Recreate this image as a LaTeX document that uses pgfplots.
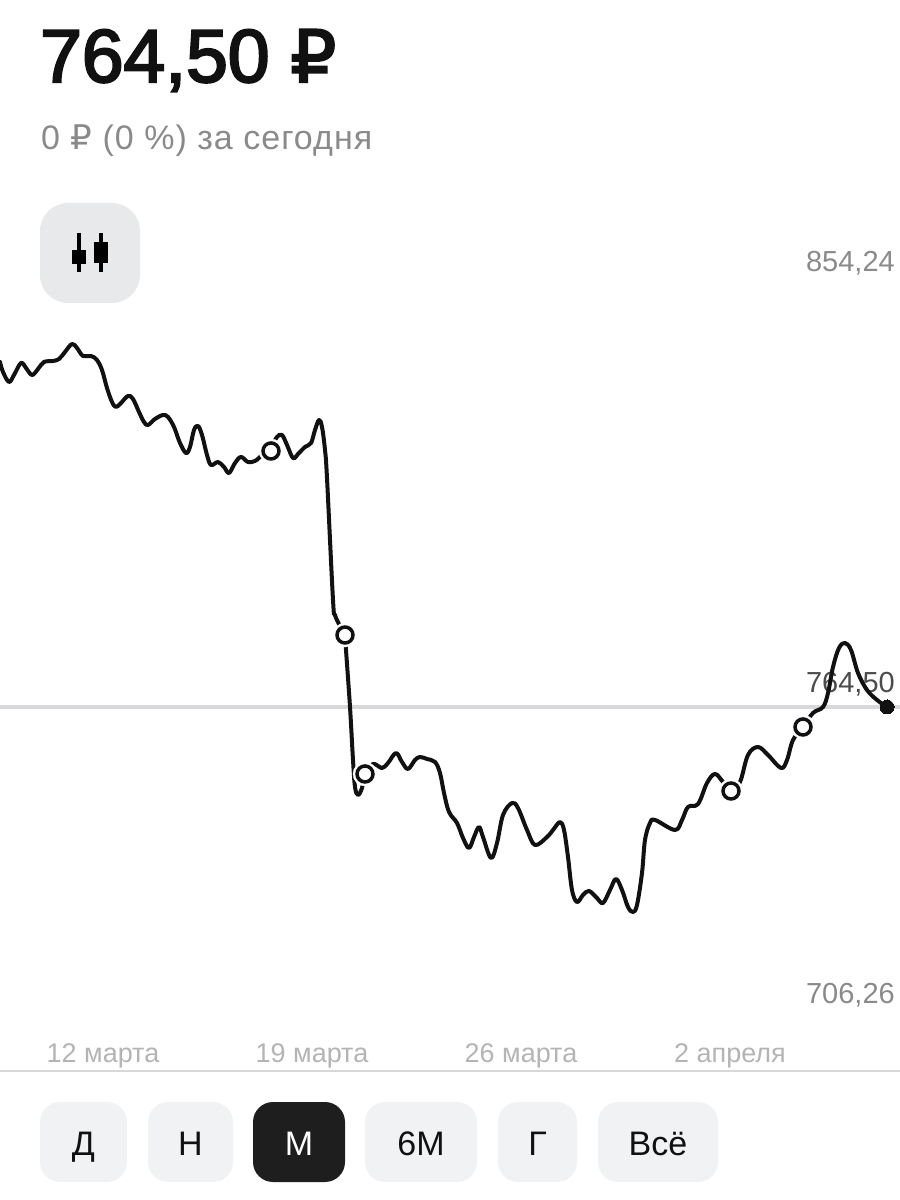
\documentclass[border=0pt]{standalone}
\usepackage{fontspec}
\setmainfont{Liberation Sans}
\newfontfamily\hd[FakeBold=3]{Liberation Sans}
\newfontfamily\rub{DejaVu Sans}
\newfontfamily\rubhd[FakeBold=3]{DejaVu Sans}
\usepackage{pgfplots}
\pgfplotsset{compat=1.18}
\definecolor{ink}{HTML}{111111}
\definecolor{greytxt}{HTML}{8A8A8A}
\definecolor{greytick}{HTML}{B4B4B4}
\definecolor{rule}{HTML}{D8D8DA}
\definecolor{btn}{HTML}{F1F2F4}
\definecolor{iconbg}{HTML}{E8E9EB}
\definecolor{btndark}{HTML}{1E1E1E}
\newcommand\fs[1]{\fontsize{#1}{#1}\selectfont}
\newcommand\lblA{764,50}
\newcommand\btn[3]{%
 \fill[btn,rounded corners=20pt] (#1,-31) rectangle (#2,-111);
 \node[anchor=base,inner sep=0pt,text=ink,font=\fs{34}] at ({(#1+#2)/2},-84) {#3};}
\begin{document}
\begin{tikzpicture}[x=1pt,y=1pt]
\useasboundingbox (0,-129) rectangle (900,1071);
\begin{axis}[
  scale only axis, width=900pt, height=1071pt,
  xmin=0, xmax=900, ymin=690.92, ymax=907.41,
  axis x line=bottom, axis y line=right,
  x axis line style={draw=rule,line width=2pt,-},
  y axis line style={draw=none,-},
  major tick length=0pt, tick style={draw=none},
  xtick={103,312,521,730},
  xticklabels={12 марта,19 марта,26 марта,2 апреля},
  xticklabel style={anchor=base,yshift=8pt,text=greytick,font=\fs{27}},
  ytick={706.26,854.24},
  yticklabels={{706,26},{854,24}},
  yticklabel style={anchor=east,xshift=-5pt,inner sep=0pt,text=greytxt,font=\fs{29}},
  extra y ticks={764.5},
  extra y tick labels={\lblA},
  extra y tick style={grid=major,major grid style={draw=rule,line width=3.5pt},
    yticklabel style={yshift=23pt,text=ink!75}},
  clip=false,
]
\addplot[ink,line width=4pt,smooth,tension=0.6,line cap=round,line join=round] coordinates {
(0,834.24)(3,832.22)(9,830.20)(14,831.61)(21,834.04)(26,833.03)(32,831.61)(38,832.82)(44,834.24)(53,834.44)(59,834.84)(65,836.26)(72,837.88)(77,837.07)(83,835.45)(91,835.45)(97,834.64)(102,832.62)(107,828.98)(112,826.15)(116,825.14)(121,825.95)(128,827.37)(133,826.76)(139,824.13)(144,822.11)(148,821.50)(155,822.72)(163,823.52)(168,823.12)(174,821.10)(180,817.86)(186,815.84)(190,817.06)(194,820.49)(198,821.30)(202,819.48)(207,815.44)(211,813.42)(218,814.02)(224,813.01)(229,811.80)(235,813.82)(241,815.04)(248,814.02)(255,814.23)(260,815.04)(271,817.06)(277,819.08)(282,819.48)(287,817.46)(293,814.83)(298,815.64)(305,817.06)(311,817.86)(315,820.49)(319,822.51)(322,821.10)(325,816.45)(327,810.79)(333,786.13)(335,783.10)(340,780.87)(345,779.05)(346,776.02)(350,764.50)(353,753.79)(355,748.33)(358,746.71)(362,748.13)(365,750.96)(373,752.98)(382,752.17)(388,753.18)(396,755.20)(402,753.38)(408,751.97)(415,753.79)(420,754.39)(427,753.99)(435,753.38)(440,751.16)(444,747.12)(449,743.28)(457,741.05)(463,738.02)(469,736.00)(474,738.22)(479,740.24)(483,738.22)(491,733.98)(497,737.01)(503,742.67)(512,745.09)(518,744.08)(527,739.64)(535,736.60)(547,738.22)(553,739.64)(560,741.25)(564,739.64)(568,734.18)(572,727.51)(577,725.08)(583,726.50)(589,727.31)(597,725.89)(603,724.88)(610,727.51)(616,729.73)(622,727.51)(628,724.07)(633,723.06)(637,724.48)(642,730.94)(645,737.62)(650,741.05)(655,741.66)(675,739.64)(682,741.66)(688,744.29)(698,744.89)(707,749.14)(715,750.96)(723,749.34)(731,747.52)(740,749.34)(748,754.80)(758,756.41)(768,754.80)(781,752.17)(787,753.79)(793,757.83)(803,760.46)(813,763.29)(823,764.50)(828,767.33)(833,772.59)(839,776.43)(845,777.44)(851,776.02)(858,771.37)(867,767.94)(877,765.92)(887,764.50)};
\addplot[only marks,mark=*,mark size=12pt,mark options={draw=white,fill=white}] coordinates {(271,816.25)(345,779.05)(365,750.96)(731,747.52)(803,760.46)};
\addplot[only marks,mark=*,mark size=8pt,mark options={draw=ink,fill=white,line width=3.5pt}] coordinates {(271,816.25)(345,779.05)(365,750.96)(731,747.52)(803,760.46)};
\addplot[only marks,mark=*,mark size=7pt,mark options={draw=ink,fill=ink,line width=0pt}] coordinates {(887,764.50)};
\end{axis}
% header
\node[anchor=base west,inner sep=0pt,text=ink,font=\fs{75}\hd] at (40,989) {764,50 {\rubhd\fs{72}₽}};
\node[anchor=base west,inner sep=0pt,text=greytxt,font=\fs{34}] at (41,921) {\addfontfeature{LetterSpace=3}0 {\rub\fs{34}₽} (0 \%) за сегодня};
% icon
\fill[iconbg,rounded corners=28pt] (40,768) rectangle (140,868);
\fill[black] (77,799) rectangle (81,838);
\fill[black] (71.5,807) rectangle (86,821);
\fill[black] (99,799) rectangle (103,838);
\fill[black] (94,808) rectangle (108,829);
% buttons
\btn{40}{127}{Д}
\btn{148}{233}{Н}
\fill[btndark,rounded corners=20pt] (253,-31) rectangle (345,-111);
\node[anchor=base,inner sep=0pt,text=white,font=\fs{34}] at (299,-84) {М};
\btn{365}{477}{6М}
\btn{498}{577}{Г}
\btn{598}{718}{Всё}
\end{tikzpicture}
\end{document}
